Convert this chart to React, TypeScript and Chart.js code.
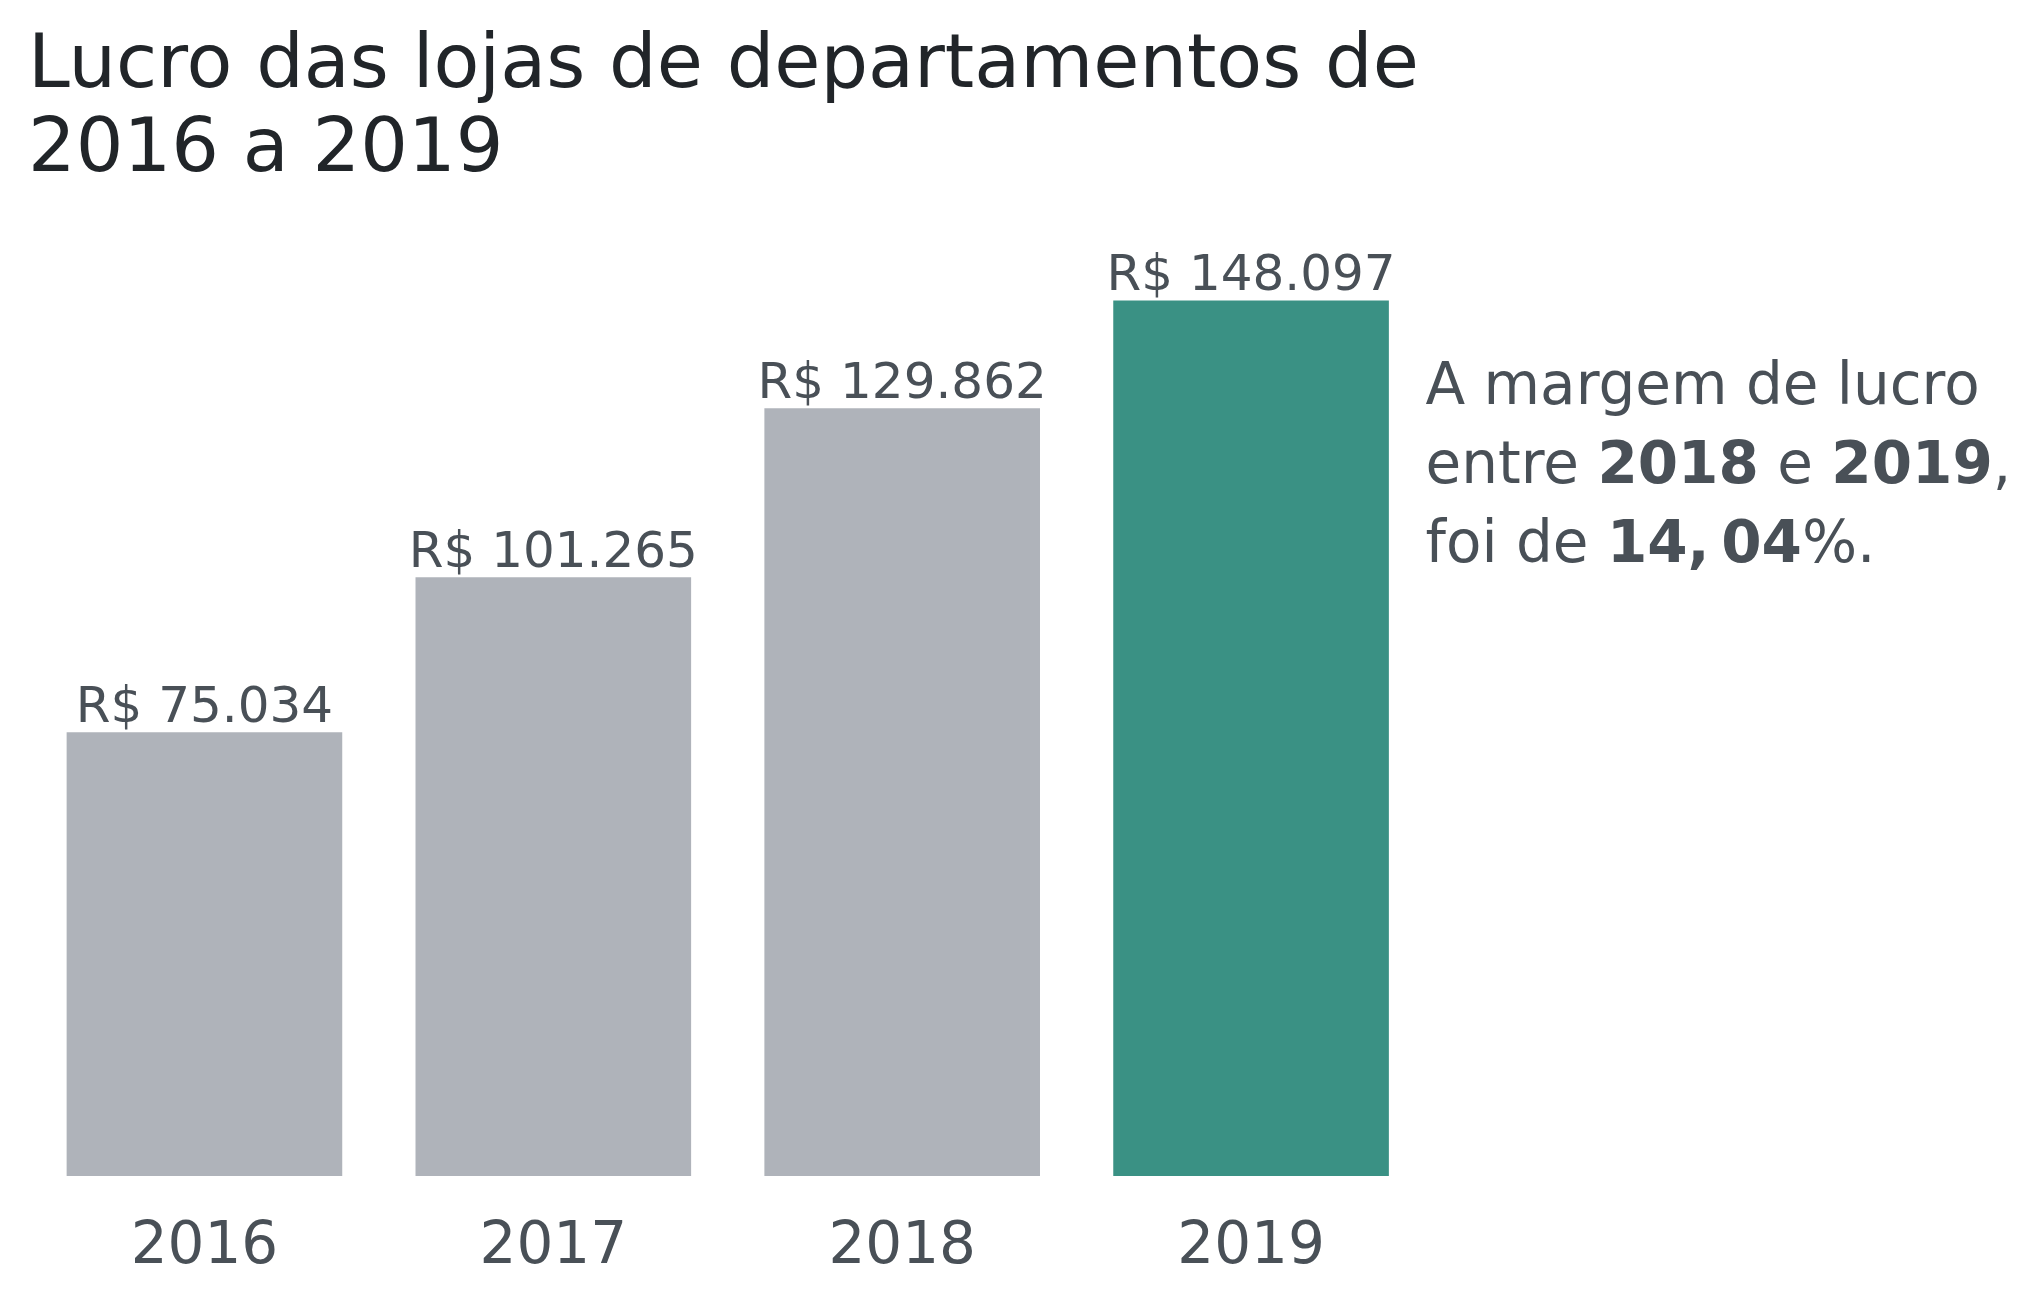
import React, { useEffect, useRef } from "react";
import { Chart, registerables } from "chart.js";

Chart.register(...registerables);

const categories = ["2016", "2017", "2018", "2019"];
const profits = [75034, 101265, 129862, 148097];
const barColors = ["#afb3ba", "#afb3ba", "#afb3ba", "#3a9184"];
const valueLabels = ["R$ 75.034", "R$ 101.265", "R$ 129.862", "R$ 148.097"];
const titleLines = ["Lucro das lojas de departamentos de", "2016 a 2019"];
// annotation: each line is a list of [text, bold]
const noteLines: [string, boolean][][] = [
  [["A margem de lucro", false]],
  [["entre ", false], ["2018", true], [" e ", false], ["2019", true], [",", false]],
  [["foi de ", false], ["14,", true], ["\u2009", false], ["04", true], ["%.", false]],
];

const FONT = "'DejaVu Sans', 'Noto Sans', sans-serif";
const TEXT = "#495057";
const TITLE = "#212529";

const overlay = {
  id: "overlay",
  afterDraw(chart: any) {
    const ctx = chart.ctx;
    ctx.save();
    // title
    ctx.fillStyle = TITLE;
    ctx.font = `normal 75px ${FONT}`;
    ctx.textAlign = "left";
    ctx.textBaseline = "alphabetic";
    ctx.fillText(titleLines[0], 28, 87);
    ctx.fillText(titleLines[1], 28, 171);

    // value labels
    const meta = chart.getDatasetMeta(0);
    ctx.font = `normal 50px ${FONT}`;
    ctx.fillStyle = TEXT;
    ctx.textAlign = "center";
    meta.data.forEach((bar: any, i: number) => {
      ctx.fillText(valueLabels[i], bar.x, bar.y - 10);
    });

    // annotation
    ctx.textAlign = "left";
    const x0 = chart.chartArea.right;
    const baselines = [404, 483, 562];
    noteLines.forEach((parts, li) => {
      let x = x0;
      parts.forEach(([t, b]) => {
        ctx.font = `${b ? "bold" : "normal"} 58px ${FONT}`;
        ctx.fillText(t, x, baselines[li]);
        x += ctx.measureText(t).width;
      });
    });
    ctx.restore();
  },
};

export default function App() {
  const ref = useRef<HTMLCanvasElement | null>(null);
  useEffect(() => {
    const canvas = ref.current!;
    const chart = new Chart(canvas, {
      type: "bar",
      data: {
        labels: categories,
        datasets: [
          {
            data: profits,
            backgroundColor: barColors,
            borderWidth: 0,
            categoryPercentage: 1,
            barPercentage: 0.79,
          },
        ],
      },
      options: {
        responsive: false,
        animation: false,
        devicePixelRatio: 1,
        layout: { padding: { top: 230, left: 30, right: 616.5, bottom: 0 } },
        plugins: { legend: { display: false }, tooltip: { enabled: false }, title: { display: false } },
        scales: {
          x: {
            grid: { display: false, drawTicks: false },
            border: { display: false },
            ticks: { color: TEXT, font: { family: FONT, size: 58 }, padding: 37 },
            afterFit: (scale: any) => {
              scale.height = 129;
            },
          },
          y: {
            display: false,
            min: 0,
            max: 160000,
            grid: { display: false },
          },
        },
      },
      plugins: [overlay],
    });
    return () => chart.destroy();
  }, []);
  return (
    <div style={{ position: "fixed", left: 0, top: 0, width: 2042, height: 1305, background: "#fff" }}>
      <canvas ref={ref} width={2042} height={1305} style={{ display: "block", width: 2042, height: 1305 }} />
    </div>
  );
}
